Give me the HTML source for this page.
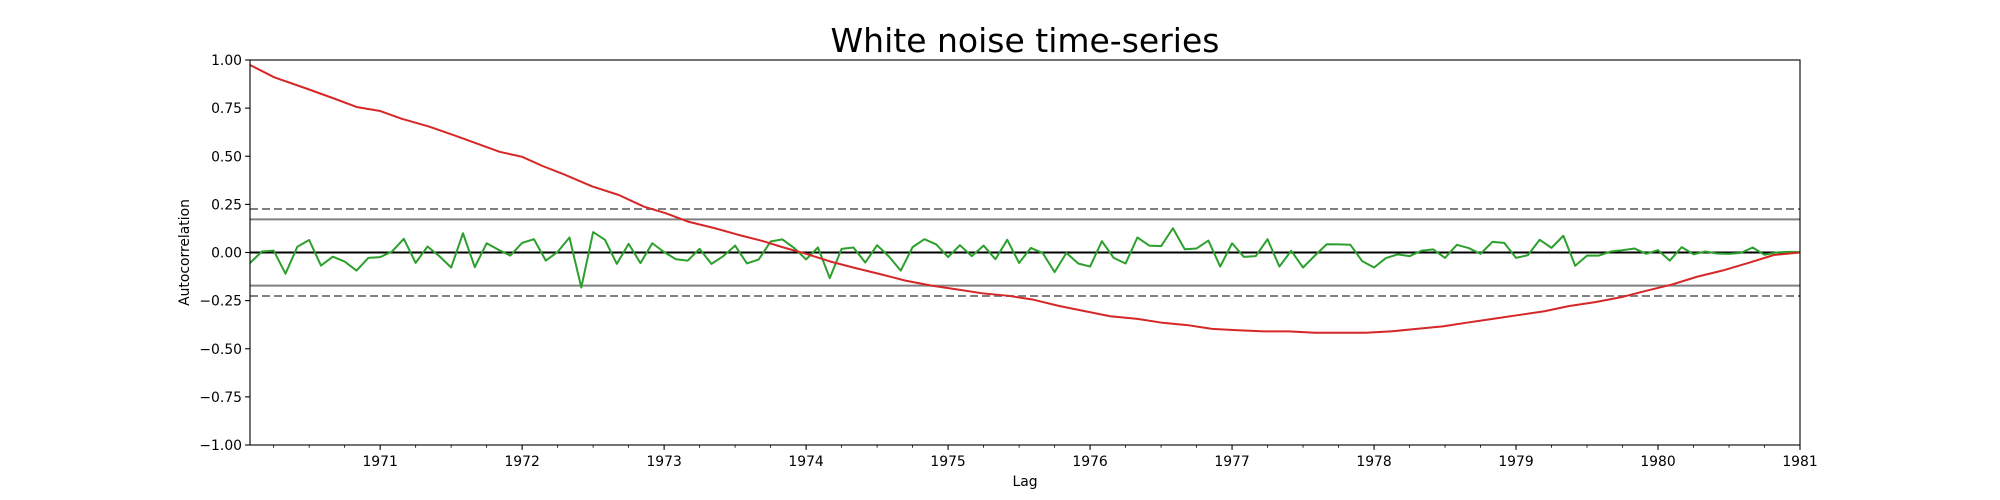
<!DOCTYPE html>
<html><head><meta charset="utf-8">
<style>
html,body{margin:0;padding:0;background:#fff;}
svg{display:block;font-family:"DejaVu Sans","Liberation Sans",sans-serif;}
</style></head>
<body>
<svg id="chart" width="2000" height="500" viewBox="0 0 2000 500">
  <text x="1025" y="52" font-size="33" text-anchor="middle" fill="#000">White noise time-series</text>
  <g id="plot"></g>
  <text x="1025" y="486" font-size="13.9" text-anchor="middle">Lag</text>
  <text transform="translate(189,252.5) rotate(-90)" font-size="13.9" text-anchor="middle">Autocorrelation</text>
</svg>
<script>
const yearLabels = ["1971","1972","1973","1974","1975","1976","1977","1978","1979","1980","1981"];
const yTickValues = [1.0,0.75,0.5,0.25,0.0,-0.25,-0.5,-0.75,-1.0];
const confSolid = 0.1719;
const confDashed = 0.2259;
const noiseAcf = [-0.055,0.005,0.01,-0.11,0.03,0.065,-0.068,-0.022,-0.047,-0.094,-0.028,-0.024,0.005,0.071,-0.054,0.031,-0.019,-0.078,0.10,-0.076,0.048,0.014,-0.016,0.05,0.069,-0.042,0.003,0.078,-0.182,0.106,0.066,-0.059,0.045,-0.055,
0.048,0.002,-0.035,-0.042,0.019,-0.059,-0.019,0.036,-0.057,-0.036,0.057,0.068,0.023,-0.036,0.026,-0.133,0.019,0.026,-0.052,0.038,-0.021,-0.094,0.028,0.069,0.042,-0.024,0.038,-0.019,0.036,-0.035,0.066,-0.054,
0.024,-0.003,-0.102,-0.002,-0.057,-0.073,0.059,-0.028,-0.057,0.078,0.036,0.033,0.126,0.017,0.021,0.062,-0.073,0.048,-0.023,-0.019,0.069,-0.073,0.009,-0.078,-0.016,0.043,0.042,0.040,-0.045,-0.078,-0.029,-0.010,-0.019,
0.009,0.016,-0.028,0.040,0.023,-0.007,0.055,0.050,-0.028,-0.014,0.066,0.024,0.087,-0.069,-0.016,-0.016,0.005,0.012,0.021,-0.007,0.012,-0.042,0.028,-0.009,0.005,-0.005,-0.007,-0.002,0.026,-0.012,0,0.003,0.002];
const trendLags = [0,2.05,4.85,7.1,9.06,11,12.8,15.1,17.2,19.3,21.1,23,24.7,26.6,28.9,31.2,33.3,35.1,37.1,39.3,41.2,43.3,45.1,47,49,51.1,53.3,55.4,57.6,59.8,61.9,64.1,66.2,68.4,70.6,72.7,74.9,77,79.2,81.3,83.5,85.7,87.8,90,92.1,94.3,96.4,98.6,100.8,102.9,105.1,107.2,109.4,111.5,113.7,115.9,118,120.2,122.3,124.5,126.7,128.8,131];
const trendAcf = [0.974,0.91,0.85,0.80,0.755,0.735,0.695,0.655,0.61,0.563,0.523,0.497,0.45,0.404,0.344,0.298,0.238,0.205,0.159,0.126,0.093,0.06,0.026,-0.007,-0.046,-0.08,-0.113,-0.146,-0.172,-0.192,-0.212,-0.225,-0.245,-0.278,-0.305,-0.331,-0.344,-0.364,-0.377,-0.397,-0.404,-0.41,-0.41,-0.417,-0.417,-0.417,-0.41,-0.397,-0.384,-0.364,-0.344,-0.325,-0.305,-0.278,-0.258,-0.232,-0.199,-0.166,-0.126,-0.093,-0.053,-0.013,0.0];

const L=250,R=1800,T=60,B=445,NM=131;
const xs = m => L + m*(R-L)/NM;
const ys = v => T + (1-v)*(B-T)/2;
const NS="http://www.w3.org/2000/svg";
const plot=document.getElementById('plot');
function mk(tag,attrs,parent){const e=document.createElementNS(NS,tag);for(const k in attrs)e.setAttribute(k,attrs[k]);(parent||plot).appendChild(e);return e;}

yTickValues.forEach(v=>{
  const t=mk('line',{x1:L-4.9,x2:L,y1:ys(v),y2:ys(v),stroke:'#000','stroke-width':1.1});
  
  
  const tx=mk('text',{x:L-8,y:ys(v)+5,'font-size':13.9,'text-anchor':'end'});
  tx.textContent=(v<0?'\u2212':'')+Math.abs(v).toFixed(2);
  
  
});
for(let m=2;m<NM;m+=3){
  if((m-11)%12===0) continue;
  const t=mk('line',{x1:xs(m),x2:xs(m),y1:B,y2:B+2.8,stroke:'#000','stroke-width':0.8});
  
  
}
yearLabels.forEach((lab,i)=>{
  const m=11+12*i;
  const t=mk('line',{x1:xs(m),x2:xs(m),y1:B,y2:B+4.9,stroke:'#000','stroke-width':1.1});
  
  
  const tx=mk('text',{x:xs(m),y:B+21,'font-size':13.9,'text-anchor':'middle'});
  tx.textContent=lab;
  
  
});
[[confDashed,'8,4','conf-99'],[confSolid,null,'conf-95']].forEach(([c,d,n])=>{
  [c,-c].forEach(v=>{
    const a={x1:L,x2:R,y1:ys(v),y2:ys(v),stroke:'#808080','stroke-width':2};
    if(d) a['stroke-dasharray']=d;
    const l=mk('line',a);
    
    
  });
});
const z=mk('line',{x1:L,x2:R,y1:ys(0),y2:ys(0),stroke:'#000','stroke-width':2});


const gp=mk('polyline',{points:noiseAcf.map((v,i)=>xs(i)+','+ys(v)).join(' '),fill:'none',stroke:'#2ca02c','stroke-width':2,'stroke-linejoin':'round'});


const rp=mk('polyline',{points:trendAcf.map((v,i)=>xs(trendLags[i])+','+ys(v)).join(' '),fill:'none',stroke:'#d62728','stroke-width':2,'stroke-linejoin':'round'});


const f=mk('rect',{x:L,y:T,width:R-L,height:B-T,fill:'none',stroke:'#000','stroke-width':1.1});


</script>
</body></html>
